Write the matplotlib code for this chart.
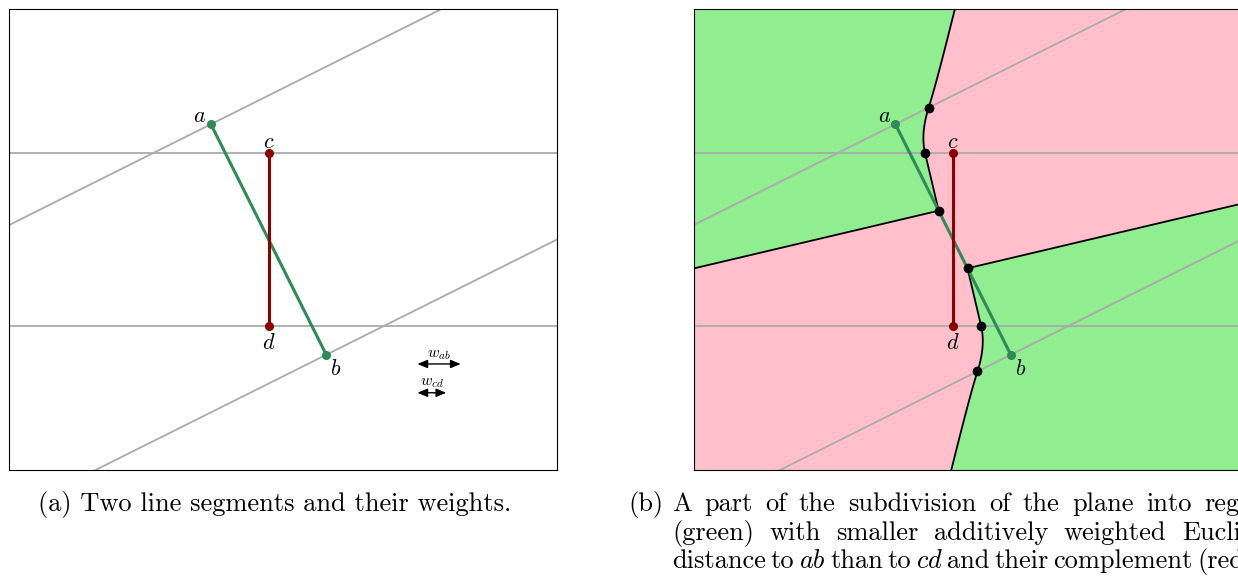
import numpy as np
import matplotlib.pyplot as plt

plt.rcParams['mathtext.fontset'] = 'cm'

# the two segments and their additive weights
a = np.array([0.0, 4.0])
b = np.array([2.0, 0.0])
c = np.array([1.0, 3.5])
d = np.array([1.0, 0.5])
w_ab = 0.75
w_cd = 0.5

point_names = ['a', 'b', 'c', 'd']
x_range = (-3.5, 6.0)
y_range = (-2.0, 6.0)

# where the weight arrows sit (lower right of panel a)
arrow_x0 = 3.58
arrow_y = [-0.16, -0.66]

green = '#90ee90'
pink = '#ffc0cb'
seg_green = '#2e8b57'
seg_red = '#8b0000'
gray = '#aaaaaa'

W, H = 1238, 578
fs_cap = 19


def seg_dist(px, py, p, q):
    # distance from (px, py) to the segment pq
    dx, dy = q - p
    t = ((px - p[0]) * dx + (py - p[1]) * dy) / (dx * dx + dy * dy)
    t = np.clip(t, 0, 1)
    return np.hypot(px - (p[0] + t * dx), py - (p[1] + t * dy))


def f(px, py):
    # negative where ab is closer (with weights added)
    return seg_dist(px, py, a, b) + w_ab - seg_dist(px, py, c, d) - w_cd


def root(p0, p1, n=60):
    # bisection for f = 0 between p0 and p1
    lo, hi = 0.0, 1.0
    s0 = np.sign(f(*p0))
    for _ in range(n):
        mid = (lo + hi) / 2
        pm = p0 + mid * (p1 - p0)
        if np.sign(f(*pm)) == s0:
            lo = mid
        else:
            hi = mid
    return p0 + lo * (p1 - p0)


def perp_slope(p, q):
    dx, dy = q - p
    return -dx / dy


def draw_base(ax):
    s_ab = perp_slope(a, b)
    s_cd = perp_slope(c, d)
    for p in (a, b):
        ax.axline(p, slope=s_ab, color=gray, lw=1.3, zorder=2)
    for p in (c, d):
        ax.axline(p, slope=s_cd, color=gray, lw=1.3, zorder=2)
    ax.plot([a[0], b[0]], [a[1], b[1]], color=seg_green, lw=2.2,
            marker='o', ms=5.5, zorder=4)
    ax.plot([c[0], d[0]], [c[1], d[1]], color=seg_red, lw=2.2,
            marker='o', ms=5.5, zorder=4)
    offsets = [(-8, 6), (7, -10), (0, 8), (0, -12)]
    for name, p, off in zip(point_names, (a, b, c, d), offsets):
        ax.annotate('$%s$' % name, xy=p, xytext=off, textcoords='offset points',
                    ha='center', va='center', fontsize=16, zorder=6)
    ax.set_xlim(*x_range)
    ax.set_ylim(*y_range)
    ax.set_xticks([])
    ax.set_yticks([])
    for sp in ax.spines.values():
        sp.set_linewidth(0.8)
        sp.set_color('black')


fig = plt.figure(figsize=(W / 100, H / 100), dpi=100)
ax1 = fig.add_axes([9 / W, 108 / H, 548 / W, 461 / H])
ax2 = fig.add_axes([693.5 / W, 108 / H, 548 / W, 461 / H])

# (a) segments and weights
draw_base(ax1)
for w, y, name in zip([w_ab, w_cd], arrow_y, ['ab', 'cd']):
    ax1.annotate('', xy=(arrow_x0 + w, y), xytext=(arrow_x0, y),
                 arrowprops=dict(arrowstyle='<|-|>,head_length=0.6,head_width=0.25',
                                 color='black', lw=1, shrinkA=0, shrinkB=0))
    ax1.text(arrow_x0 + w / 2, y + 0.17, '$w_{%s}$' % name,
             ha='center', va='center', fontsize=11.5)

# (b) subdivision of the plane
xs = np.linspace(*x_range, 1400)
ys = np.linspace(*y_range, 1200)
X, Y = np.meshgrid(xs, ys)
F = f(X, Y)
ax2.contourf(X, Y, F, levels=[F.min() - 1, 0, F.max() + 1],
             colors=[green, pink], zorder=0)
ax2.contour(X, Y, F, levels=[0], colors='black', linewidths=1.3, zorder=3)
draw_base(ax2)

n = np.array([b[1] - a[1], a[0] - b[0]]) * -1.0
n = n / np.hypot(*n)
m = (a + b) / 2
breaks = [root(a, a + 5 * n), root(b, b - 5 * n),
          root(c, c + np.array([-5.0, 0.0])), root(d, d + np.array([5.0, 0.0])),
          root(a, m), root(m, b)]
breaks = np.array(breaks)
ax2.plot(breaks[:, 0], breaks[:, 1], 'o', color='black', ms=6, zorder=5)

# captions
fig.canvas.draw()
renderer = fig.canvas.get_renderer()


def word_width(s):
    t = fig.text(0, 0, s, fontfamily='cmr10', fontsize=fs_cap)
    wd = t.get_window_extent(renderer).width
    t.remove()
    return wd


def justify(words, x_start, x_last, y):
    widths = [word_width(w) for w in words]
    gap = (x_last - x_start - sum(widths[:-1])) / (len(words) - 1)
    x = x_start
    for w, wd in zip(words, widths):
        fig.text(x / W, 1 - y / H, w, fontfamily='cmr10', fontsize=fs_cap,
                 ha='left', va='baseline')
        x += wd + gap


fig.text(275 / W, 1 - 511 / H, '(a) Two line segments and their weights.',
         fontfamily='cmr10', fontsize=fs_cap, ha='center', va='baseline')
fig.text(628 / W, 1 - 511 / H, '(b)', fontfamily='cmr10', fontsize=fs_cap,
         ha='left', va='baseline')
justify('A part of the subdivision of the plane into regions'.split(), 672, 1204, 511)
justify('(green) with smaller additively weighted Euclidean'.split(), 672, 1182, 540)
justify(['distance', 'to', '$ab$', 'than', 'to', '$cd$', 'and', 'their',
         'complement', '(red).'], 672, 1197, 568)

fig.savefig('out.png', dpi=100)
